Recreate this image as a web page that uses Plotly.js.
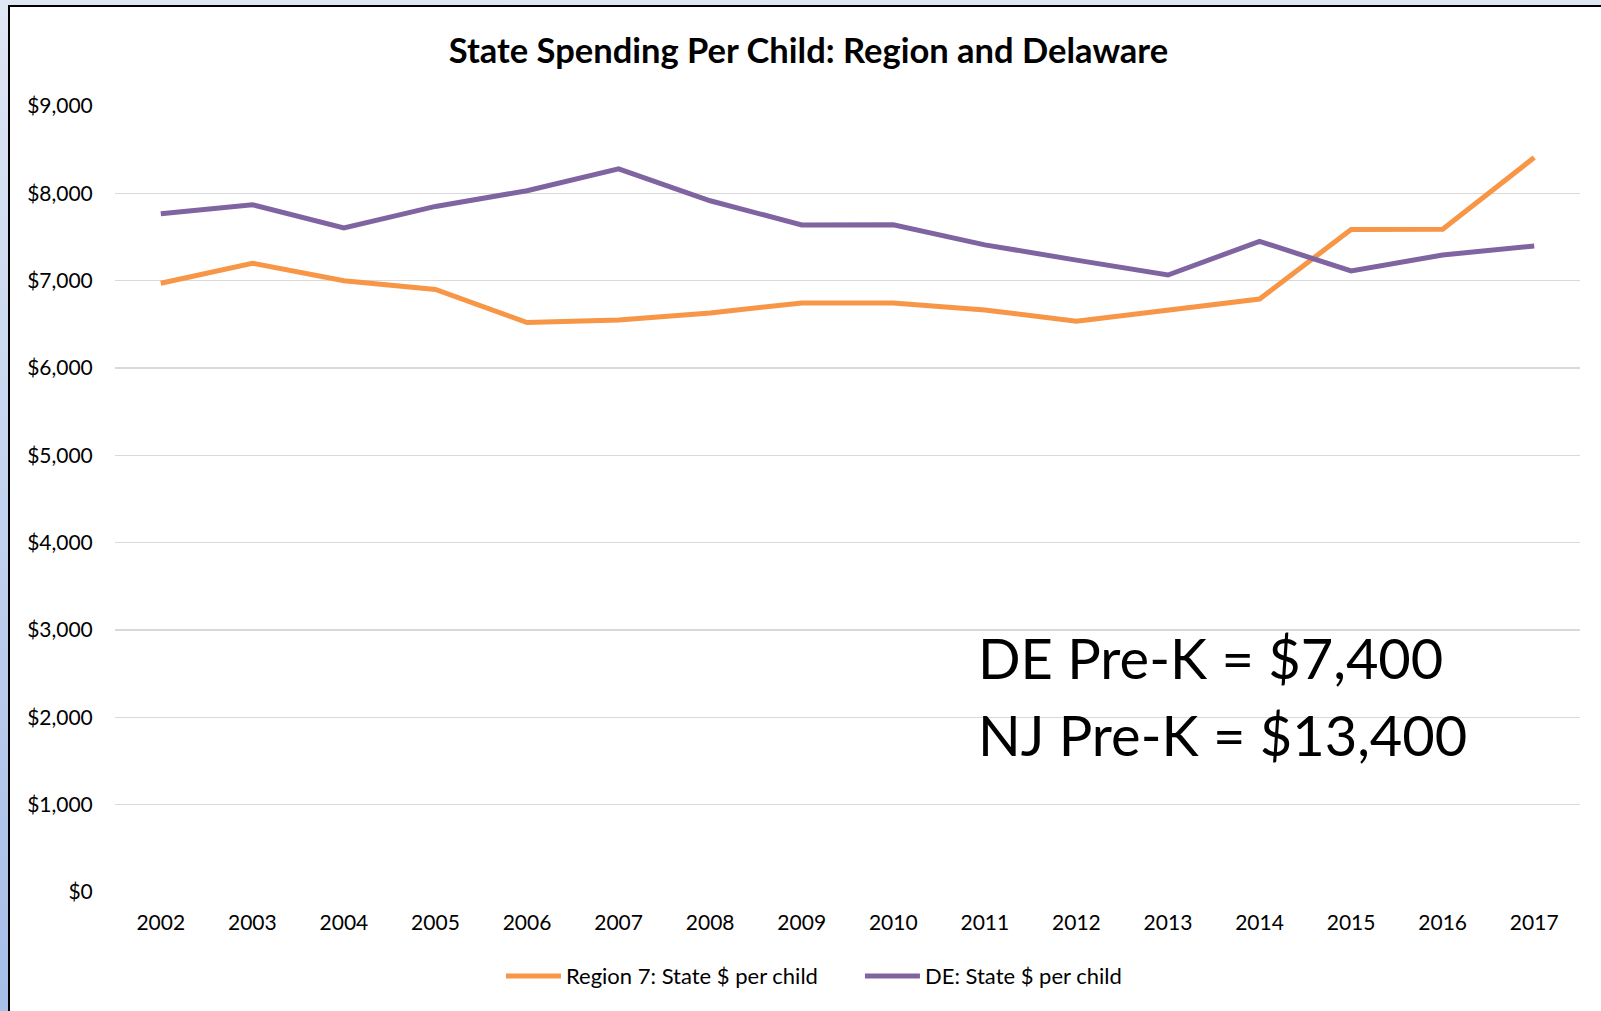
<!DOCTYPE html>
<html>
<head>
<meta charset="utf-8">
<script src="https://cdn.plot.ly/plotly-3.0.1.min.js"></script>
<style>
  html, body { margin: 0; padding: 0; width: 1601px; height: 1011px; overflow: hidden; }
  body { background: linear-gradient(to bottom, #dfe6f4 0%, #c3d2ee 50%, #a6bee8 100%); position: relative; }
  #frame { position: absolute; left: 8px; top: 5px; width: 1591px; height: 1004px; background: #ffffff;
           border-left: 2.5px solid #000; border-top: 2.5px solid #000; }
  #chart { position: absolute; left: 0; top: 0; width: 1601px; height: 1011px; }
</style>
</head>
<body>
<div id="frame"></div>
<div id="chart"></div>
<script>
const years = ["2002","2003","2004","2005","2006","2007","2008","2009","2010","2011","2012","2013","2014","2015","2016","2017"];
const region7 = [6970, 7200, 7000, 6900, 6520, 6550, 6630, 6745, 6745, 6665, 6535, 6665, 6790, 7585, 7590, 8410];
const delaware = [7765, 7870, 7605, 7850, 8030, 8280, 7915, 7638, 7640, 7410, 7235, 7065, 7450, 7112, 7294, 7398];
const yTickVals = [0, 1000, 2000, 3000, 4000, 5000, 6000, 7000, 8000, 9000];
const yTickText = ["$0", "$1,000", "$2,000", "$3,000", "$4,000", "$5,000", "$6,000", "$7,000", "$8,000", "$9,000"];
const seriesNames = ["Region 7: State $ per child", "DE: State $ per child"];
const titleText = "State Spending Per Child: Region and Delaware";
const noteLines = ["DE Pre-K = $7,400", "NJ Pre-K = $13,400"];

const FONT = "Lato, 'Open Sans', sans-serif";

const traces = [
  { x: years, y: region7, type: "scatter", mode: "lines", name: seriesNames[0],
    line: { color: "#F79646", width: 5 }, hoverinfo: "skip" },
  { x: years, y: delaware, type: "scatter", mode: "lines", name: seriesNames[1],
    line: { color: "#8064A2", width: 5 }, hoverinfo: "skip" }
];

const layout = {
  width: 1601, height: 1011,
  paper_bgcolor: "rgba(0,0,0,0)", plot_bgcolor: "rgba(0,0,0,0)",
  margin: { l: 115, r: 21, t: 106, b: 119 },
  font: { family: FONT, color: "#000000", size: 21 },
  title: { text: "<b>" + titleText + "</b>", x: 0.505, xanchor: "center", y: 0.95, yanchor: "middle",
           font: { family: FONT, size: 34.5, color: "#000000" } },
  xaxis: { type: "category", range: [-0.5, 15.5], showgrid: false, zeroline: false, showline: false,
           ticks: "outside", ticklen: 12, tickcolor: "rgba(0,0,0,0)",
           tickfont: { family: FONT, size: 21, color: "#000000" } },
  yaxis: { range: [0, 9000], tickvals: yTickVals, ticktext: yTickText, showgrid: true,
           gridcolor: "#D9D9D9", gridwidth: 1.5, zeroline: false, showline: false,
           ticks: "outside", ticklen: 17, tickcolor: "rgba(0,0,0,0)",
           tickfont: { family: FONT, size: 21, color: "#000000" } },
  showlegend: true,
  legend: { orientation: "h", x: 0.5085, xanchor: "center", y: -0.107, yanchor: "middle",
            font: { family: FONT, size: 22, color: "#000000" }, itemwidth: 55,
            entrywidth: 289, entrywidthmode: "pixels", tracegroupgap: 0,
            bgcolor: "rgba(0,0,0,0)" },
  annotations: [
    { xref: "paper", yref: "paper", x: 0.588, y: 0.2985, xanchor: "left", yanchor: "middle",
      text: noteLines[0], showarrow: false, font: { family: FONT, size: 56, color: "#000000" } },
    { xref: "paper", yref: "paper", x: 0.588, y: 0.2005, xanchor: "left", yanchor: "middle",
      text: noteLines[1], showarrow: false, font: { family: FONT, size: 56, color: "#000000" } }
  ]
};

Plotly.newPlot("chart", traces, layout, { displayModeBar: false, staticPlot: true });
</script>
</body>
</html>
